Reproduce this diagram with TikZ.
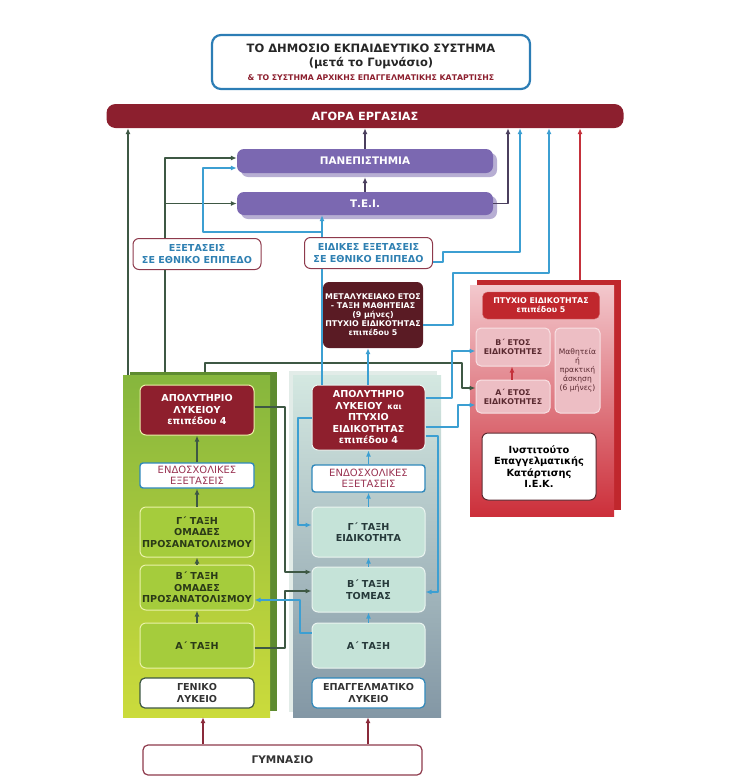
\documentclass[tikz,border=0pt]{standalone}
\usepackage{fontspec}
\setmainfont{DejaVu Sans}
\usetikzlibrary{arrows.meta}
\definecolor{agora}{HTML}{8C1F2E}
\definecolor{titleblue}{HTML}{2C7DB5}
\definecolor{uni}{HTML}{7B68B1}
\definecolor{unishadow}{HTML}{B7AED3}
\definecolor{exborder}{HTML}{8E3A4C}
\definecolor{extext}{HTML}{2F80B2}
\definecolor{metal}{HTML}{5A1B24}
\definecolor{gline}{HTML}{3E5844}
\definecolor{bline}{HTML}{3C9FD2}
\definecolor{pline}{HTML}{4B3F5E}
\definecolor{rline}{HTML}{C4313B}
\definecolor{gymline}{HTML}{8A2A3A}
\definecolor{apol}{HTML}{8E1F2D}
\definecolor{gfill}{HTML}{A5CC3C}
\definecolor{gborder}{HTML}{EAF2A8}
\definecolor{gtext}{HTML}{2B3A17}
\definecolor{gtop}{HTML}{86B63D}
\definecolor{gbot}{HTML}{CBDB3C}
\definecolor{gshadow}{HTML}{5E8B30}
\definecolor{efill}{HTML}{C5E3D8}
\definecolor{eborder}{HTML}{EAF4F0}
\definecolor{etext}{HTML}{26393A}
\definecolor{etop}{HTML}{D4E8E1}
\definecolor{ebot}{HTML}{8397A5}
\definecolor{eshadow}{HTML}{E2ECE8}
\definecolor{endoborder}{HTML}{2F88BB}
\definecolor{endotext}{HTML}{9A3453}
\definecolor{iekred}{HTML}{C0272D}
\definecolor{iektop}{HTML}{F3C8CD}
\definecolor{iekbot}{HTML}{CC2F3A}
\definecolor{iekfill}{HTML}{EDBEC4}
\definecolor{iekborder}{HTML}{F8E0E3}
\definecolor{iektext}{HTML}{5B2A31}
\begin{document}
\begin{tikzpicture}[x=1pt, y=-1pt, line join=round, >={Latex[length=6pt,width=5pt]},
  every node/.style={align=center, inner sep=1pt},
  big/.style={font=\bfseries\fontsize{9.6}{11.5}\selectfont},
  small/.style={font=\bfseries\fontsize{7.9}{9}\selectfont},
  wire/.style={line width=1.3pt},
  garr/.style={wire, draw=gline, ->},
  barr/.style={wire, draw=bline, ->},
  parr/.style={wire, draw=pline, ->},
  rarr/.style={wire, draw=rline, ->},
  gyarr/.style={wire, draw=gymline, ->},
  unibox/.style={font=\bfseries\fontsize{10.4}{12}\selectfont, fill=uni, text=white, rounded corners=7pt, minimum width=256, minimum height=24},
  exambox/.style={big, fill=white, draw=exborder, line width=1pt, text=extext, rounded corners=6pt, minimum width=128, minimum height=31},
  apolbox/.style={big, fill=apol, text=white, line width=1pt, rounded corners=6pt},
  gbox/.style={big, fill=gfill, draw=gborder, line width=1pt, text=gtext, rounded corners=6pt, minimum width=114},
  ebox/.style={big, fill=efill, draw=eborder, line width=1pt, text=etext, rounded corners=6pt, minimum width=113},
  endobox/.style={font=\fontsize{10}{11}\selectfont, fill=white, draw=endoborder, line width=1.4pt, text=endotext, rounded corners=3pt, minimum height=25},
  lykbox/.style={big, fill=white, line width=1.2pt, text=black!80, rounded corners=5pt, minimum height=30},
  iekbox/.style={small, fill=iekfill, draw=iekborder, line width=1pt, text=iektext, rounded corners=5pt},
]
\useasboundingbox (0,0) rectangle (744,782);
\def\lanebar{128}
\def\laneuni{165}
\def\laneiek{205}
\def\laneepal{322}

\node[draw=titleblue, line width=2.2pt, rounded corners=9pt, minimum width=318, minimum height=54,
  font=\bfseries\fontsize{11.5}{14}\selectfont, text=black!85] (title) at (371,62)
  {ΤΟ ΔΗΜΟΣΙΟ ΕΚΠΑΙΔΕΥΤΙΚΟ ΣΥΣΤΗΜΑ\\(μετά το Γυμνάσιο)\\{\color{agora}\fontsize{7.8}{14}\selectfont \& ΤΟ ΣΥΣΤΗΜΑ ΑΡΧΙΚΗΣ ΕΠΑΓΓΕΛΜΑΤΙΚΗΣ ΚΑΤΑΡΤΙΣΗΣ}};
\node[fill=agora, rounded corners=9pt, minimum width=517, minimum height=24, text=white,
  font=\bfseries\fontsize{11.3}{12}\selectfont] (bar) at (365,116) {ΑΓΟΡΑ ΕΡΓΑΣΙΑΣ};

\fill[unishadow, rounded corners=7pt] (241,153) rectangle (497,177);
\fill[unishadow, rounded corners=7pt] (241,196) rectangle (497,219);
\node[unibox] (pan) at (365,161) {ΠΑΝΕΠΙΣΤΗΜΙΑ};
\node[unibox, minimum height=23] (tei) at (365,203.5) {Τ.Ε.Ι.};

\node[exambox] (ex1) at (197,254) {ΕΞΕΤΑΣΕΙΣ\\ΣΕ ΕΘΝΙΚΟ ΕΠΙΠΕΔΟ};
\node[exambox] (ex2) at (368.5,253) {ΕΙΔΙΚΕΣ ΕΞΕΤΑΣΕΙΣ\\ΣΕ ΕΘΝΙΚΟ ΕΠΙΠΕΔΟ};
\node[small, fill=metal, text=white, rounded corners=6pt, minimum width=100, minimum height=66,
  font=\bfseries\fontsize{7.9}{9}\selectfont] (metal) at (373,315)
  {ΜΕΤΑΛΥΚΕΙΑΚΟ ΕΤΟΣ\\- ΤΑΞΗ ΜΑΘΗΤΕΙΑΣ\\(9 μήνες)\\ΠΤΥΧΙΟ ΕΙΔΙΚΟΤΗΤΑΣ\\επιπέδου 5};

% panels
\fill[gshadow] (130,372) rectangle (277,711);
\node[top color=gtop, bottom color=gbot, minimum width=147, minimum height=342, inner sep=0] (genp) at (196.5,546) {};
\fill[eshadow] (289,371) rectangle (437,712);
\node[top color=etop, bottom color=ebot, minimum width=148, minimum height=342, inner sep=0] (epp) at (367,546) {};
\fill[iekred] (477,280) rectangle (621,510);
\node[top color=iektop, bottom color=iekbot, minimum width=144, minimum height=231, inner sep=0] (iekp) at (542,400.5) {};

% general lyceum
\node[apolbox, draw=gborder, minimum width=114, minimum height=50] (gapol) at (197,410) {ΑΠΟΛΥΤΗΡΙΟ\\ΛΥΚΕΙΟΥ\\επιπέδου 4};
\node[endobox, minimum width=114] (gendo) at (197,475.5) {ΕΝΔΟΣΧΟΛΙΚΕΣ\\ΕΞΕΤΑΣΕΙΣ};
\node[gbox, minimum height=50] (gc) at (197,532) {Γ΄ ΤΑΞΗ\\ΟΜΑΔΕΣ\\ΠΡΟΣΑΝΑΤΟΛΙΣΜΟΥ};
\node[gbox, minimum height=45] (gb) at (197,587.5) {Β΄ ΤΑΞΗ\\ΟΜΑΔΕΣ\\ΠΡΟΣΑΝΑΤΟΛΙΣΜΟΥ};
\node[gbox, minimum height=45] (ga) at (197,645.5) {Α΄ ΤΑΞΗ};
\node[lykbox, draw=gline, minimum width=114] (glyk) at (197,693) {ΓΕΝΙΚΟ\\ΛΥΚΕΙΟ};

% vocational lyceum
\node[apolbox, draw=eborder, minimum width=113, minimum height=65] (eapol) at (368.5,417.5)
  {ΑΠΟΛΥΤΗΡΙΟ\\ΛΥΚΕΙΟΥ \,{\fontsize{8}{11.5}\selectfont και}\\ΠΤΥΧΙΟ\\ΕΙΔΙΚΟΤΗΤΑΣ\\επιπέδου 4};
\node[endobox, minimum width=113, minimum height=27] (eendo) at (368.5,478.5) {ΕΝΔΟΣΧΟΛΙΚΕΣ\\ΕΞΕΤΑΣΕΙΣ};
\node[ebox, minimum height=50] (ec) at (368.5,532) {Γ΄ ΤΑΞΗ\\ΕΙΔΙΚΟΤΗΤΑ};
\node[ebox, minimum height=45] (eb) at (368.5,589.5) {Β΄ ΤΑΞΗ\\ΤΟΜΕΑΣ};
\node[ebox, minimum height=45] (ea) at (368.5,645.5) {Α΄ ΤΑΞΗ};
\node[lykbox, draw=endoborder, minimum width=113] (elyk) at (368.5,693) {ΕΠΑΓΓΕΛΜΑΤΙΚΟ\\ΛΥΚΕΙΟ};

% IEK
\node[small, fill=iekred, draw=iekred!70!white, text=white, rounded corners=5pt, minimum width=117, minimum height=27] (p5) at (541,305.5) {ΠΤΥΧΙΟ ΕΙΔΙΚΟΤΗΤΑΣ\\επιπέδου 5};
\node[iekbox, minimum width=74, minimum height=38] (beta) at (513,347) {Β΄ ΕΤΟΣ\\ΕΙΔΙΚΟΤΗΤΕΣ};
\node[iekbox, minimum width=74, minimum height=33] (alpha) at (513,396.5) {Α΄ ΕΤΟΣ\\ΕΙΔΙΚΟΤΗΤΕΣ};
\node[iekbox, font=\fontsize{7.6}{9}\selectfont, minimum width=45, minimum height=85] (mathit) at (577.5,370.5) {Μαθητεία\\ή\\πρακτική\\άσκηση\\(6 μήνες)};
\node[fill=white, draw=iektext, line width=1pt, rounded corners=6pt, minimum width=114, minimum height=67,
  font=\bfseries\fontsize{9.8}{11.5}\selectfont] (iek) at (539,466.5) {Ινστιτούτο\\Επαγγελματικής\\Κατάρτισης\\Ι.Ε.Κ.};

\node[lykbox, draw=exborder, minimum width=279, font=\bfseries\fontsize{10.5}{12}\selectfont] (gym) at (282.5,760) {ΓΥΜΝΑΣΙΟ};

% connectors: general lyceum
\foreach \a/\b in {ga/gb, gb/gc, gc/gendo, gendo/gapol}
  \draw[garr] (\a.north) -- (\b.south);
\draw[garr] (genp.north -| \lanebar,0) -- (bar.south -| \lanebar,0);
\draw[gline, wire] ([yshift=3pt]genp.north -| \laneuni,0) -- (ex1.south -| \laneuni,0);
\draw[garr] (ex1.north -| \laneuni,0) |- ([yshift=3pt]pan.west);
\draw[garr] (\laneuni,0 |- tei.west) -- (tei.west);
\draw[garr] ([yshift=3pt]genp.north -| \laneiek,0) |- (462,363) |- ([yshift=8.5pt]alpha.west);
\draw[garr] (gapol.east |- 0,407) -| (285,572) -- (eb.west |- 0,572);
\draw[garr] (ga.east |- 0,648) -| (285,591) -- (eb.west |- 0,591);

% connectors: vocational lyceum
\foreach \a/\b in {ea/eb, eb/ec, ec/eendo, eendo/eapol}
  \draw[barr] (\a.north) -- (\b.south);
\draw[bline, wire] (eapol.north -| \laneepal,0) -- (ex2.south -| \laneepal,0);
\draw[barr] (ex2.north -| \laneepal,0) -- (tei.south -| \laneepal,0);
\draw[barr] (\laneepal,232) -| (203,168) -- (pan.west |- 0,168);
\draw[barr] (eapol.north -| 368,0) -- (metal.south -| 368,0);
\draw[barr] (ex2.east |- 0,262) -| (443,252) -| (bar.south -| 520,0);
\draw[barr] (metal.east |- 0,325) -| (453,273) -| (bar.south -| 549,0);
\draw[barr] (eapol.east |- 0,398) -| (452,351) -- (beta.west |- 0,351);
\draw[barr] (eapol.east |- 0,427) -| (458,405) -- (alpha.west |- 0,405);
\draw[barr] (eapol.west |- 0,418) -| (298,525) -- (ec.west |- 0,525);
\draw[barr] (eapol.east |- 0,436) -| (438,592) -- (eb.east |- 0,592);
\draw[barr] (ea.west |- 0,633) -| (300,600) -- (gb.east |- 0,600);

% connectors: higher education, IEK, gymnasium
\draw[parr] (tei.north) -- ([yshift=-4pt]pan.south);
\draw[parr] (pan.north) -- (bar.south -| pan.north);
\draw[parr] (tei.east) -| (bar.south -| 508,0);
\draw[rarr] (alpha.north -| 512,0) -- (beta.south -| 512,0);
\draw[rarr] ([yshift=5pt]iekp.north -| 580,0) -- (bar.south -| 580,0);
\draw[gyarr] (gym.north -| 203,0) -- (genp.south -| 203,0);
\draw[gyarr] (gym.north -| 368,0) -- (epp.south -| 368,0);
\end{tikzpicture}
\end{document}
